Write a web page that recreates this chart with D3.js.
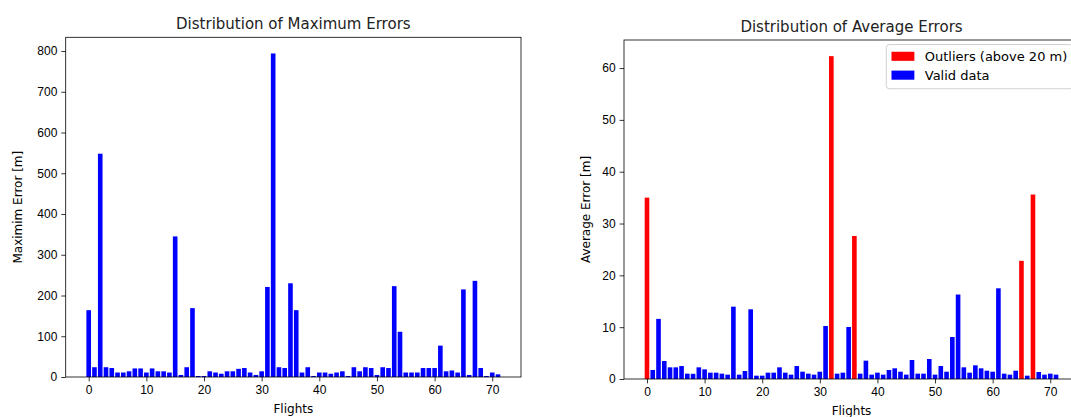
<!DOCTYPE html>
<html>
<head>
<meta charset="utf-8">
<script src="https://cdn.jsdelivr.net/npm/d3@7"></script>
<style>
  body { margin: 0; background: #fff; }
  svg { font-family: "DejaVu Sans", sans-serif; }
  .tick text { font-size: 12px; fill: #000; }
  .tick line { stroke: #000; stroke-width: 0.8; }
  .domain { display: none; }
</style>
</head>
<body>
<div class="chart"></div>
<script>
var svgWidth = 1071;
var svgHeight = 417;

// flight index 0..71
var flights = d3.range(72);

var maxErrors = [164, 24, 548, 24, 22, 11, 11, 14, 21, 21,
  11, 21, 14, 14, 11, 345, 5, 24, 169, 2.5,
  2.5, 14, 11, 8, 14, 14, 20, 22, 11, 5,
  14, 221, 794, 24, 22, 230, 164, 11, 24, 2.5,
  11, 11, 8, 11, 14, 2.5, 24, 14, 24, 22,
  5, 24, 22, 223, 111, 11, 11, 11, 22, 22,
  22, 77, 14, 16, 11, 215, 5, 236, 22, 2.5,
  11, 6.5];

var avgErrors = [35.0, 1.74, 11.6, 3.47, 2.25, 2.25, 2.5, 1.03, 1.0, 2.25,
  1.86, 1.22, 1.22, 1.03, 0.84, 13.96, 0.84, 1.54, 13.45, 0.64,
  0.64, 1.22, 1.22, 2.25, 1.22, 0.84, 2.5, 1.41, 1.03, 0.84,
  1.41, 10.23, 62.3, 1.03, 1.22, 10.04, 27.6, 1.03, 3.54, 0.84,
  1.22, 0.84, 1.74, 2.06, 1.41, 0.84, 3.67, 1.03, 1.03, 3.86,
  0.84, 2.5, 1.41, 8.1, 16.3, 2.25, 1.22, 2.64, 2.06, 1.6,
  1.41, 17.5, 1.03, 0.84, 1.6, 22.8, 0.64, 35.6, 1.35, 0.84,
  1.03, 0.84];

var xTicks = [0, 10, 20, 30, 40, 50, 60, 70];
var maxTicks = [0, 100, 200, 300, 400, 500, 600, 700, 800];
var avgTicks = [0, 10, 20, 30, 40, 50, 60];

var outlierLimit = 20;
var legendLabels = ["Outliers (above 20 m)", "Valid data"];
var legendColors = ["#ff0000", "#0000ff"];

var svg = d3.select(".chart")
  .append("svg")
  .attr("width", svgWidth)
  .attr("height", svgHeight);

// matplotlib-like limits: bars of width 0.8 plus 5% margin
var barW = 0.8;
var xMin = -barW / 2, xMax = flights.length - 1 + barW / 2;
var pad = (xMax - xMin) * 0.05;
var xDomain = [xMin - pad, xMax + pad];

function drawPanel(opts) {
  var x = d3.scaleLinear().domain(xDomain).range([opts.left, opts.right]);
  var y = d3.scaleLinear()
    .domain([0, d3.max(opts.values) * 1.05])
    .range([opts.bottom, opts.top]);

  var g = svg.append("g");

  g.selectAll("rect.bar")
    .data(opts.values)
    .enter()
    .append("rect")
    .attr("class", "bar")
    .attr("x", (d, i) => x(flights[i] - barW / 2))
    .attr("width", (d, i) => x(flights[i] + barW / 2) - x(flights[i] - barW / 2))
    .attr("y", d => y(d))
    .attr("height", d => y(0) - y(d))
    .attr("fill", opts.color);

  g.append("g")
    .attr("transform", `translate(0, ${opts.bottom})`)
    .call(d3.axisBottom(x).tickValues(xTicks).tickSize(4.4).tickPadding(4));

  g.append("g")
    .attr("transform", `translate(${opts.left}, 0)`)
    .call(d3.axisLeft(y).tickValues(opts.ticks).tickSize(4.4).tickPadding(4));

  g.append("rect")
    .attr("x", opts.left)
    .attr("y", opts.top)
    .attr("width", opts.right - opts.left)
    .attr("height", opts.bottom - opts.top)
    .attr("fill", "none")
    .attr("stroke", "#000")
    .attr("stroke-width", 0.8);

  g.append("text")
    .attr("x", (opts.left + opts.right) / 2)
    .attr("y", opts.top - 8)
    .attr("text-anchor", "middle")
    .attr("font-size", 15)
    .attr("fill", "#222")
    .text(opts.title);

  g.append("text")
    .attr("x", (opts.left + opts.right) / 2)
    .attr("y", opts.bottom + 36)
    .attr("text-anchor", "middle")
    .attr("font-size", 12)
    .text("Flights");

  g.append("text")
    .attr("transform", "rotate(-90)")
    .attr("x", -(opts.top + opts.bottom) / 2)
    .attr("y", opts.yLabelX)
    .attr("text-anchor", "middle")
    .attr("font-size", 12)
    .text(opts.yLabel);

  return x;
}

drawPanel({
  left: 65.7, right: 521, top: 37.3, bottom: 377,
  values: maxErrors,
  ticks: maxTicks,
  color: "#0000ff",
  title: "Distribution of Maximum Errors",
  yLabel: "Maximim Error [m]",
  yLabelX: 22
});

var rightPanelRight = 1079;
drawPanel({
  left: 624, right: rightPanelRight, top: 40, bottom: 379,
  values: avgErrors,
  ticks: avgTicks,
  color: d => d > outlierLimit ? legendColors[0] : legendColors[1],
  title: "Distribution of Average Errors",
  yLabel: "Average Error [m]",
  yLabelX: 590
});

// legend, upper right
var legend = svg.append("g");
var fs = 13;
var texts = legend.selectAll("text")
  .data(legendLabels)
  .enter()
  .append("text")
  .attr("font-size", fs)
  .attr("fill", "#000")
  .text(d => d);
var textW = d3.max(texts.nodes(), n => n.getComputedTextLength());
var handleW = 2 * fs * 0.88;
var boxW = 0.4 * fs + handleW + 0.8 * fs + textW + 0.4 * fs;
var rowH = fs * 1.45;
var boxH = 0.4 * fs * 2 + rowH * legendLabels.length - 0.3 * fs;
var lx = rightPanelRight - 0.5 * fs - boxW;
var ly = 40 + 0.35 * fs;

legend.insert("rect", "text")
  .attr("x", lx)
  .attr("y", ly)
  .attr("width", boxW)
  .attr("height", boxH)
  .attr("rx", 3)
  .attr("fill", "#fff")
  .attr("fill-opacity", 0.8)
  .attr("stroke", "#d0d0d0");

legend.selectAll("rect.key")
  .data(legendColors)
  .enter()
  .append("rect")
  .attr("class", "key")
  .attr("x", lx + 0.4 * fs)
  .attr("y", (d, i) => ly + 0.4 * fs + i * rowH + 2)
  .attr("width", handleW)
  .attr("height", 0.7 * fs)
  .attr("fill", d => d);

texts
  .attr("x", lx + 0.4 * fs + handleW + 0.8 * fs)
  .attr("y", (d, i) => ly + 0.4 * fs + i * rowH + 0.7 * fs + 2);
</script>
</body>
</html>
